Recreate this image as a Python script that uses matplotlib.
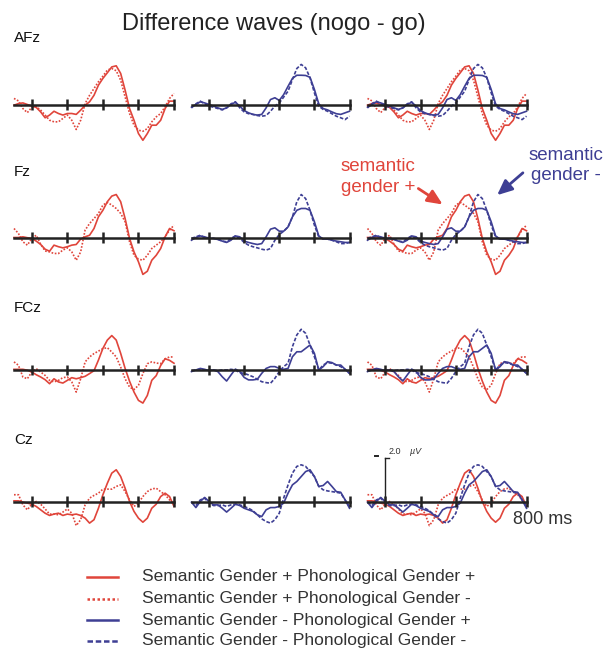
import numpy as np
import matplotlib
matplotlib.use("Agg")
import matplotlib.pyplot as plt
from matplotlib.lines import Line2D
from matplotlib.patches import FancyArrowPatch

plt.rcParams['font.family'] = ['Liberation Sans', 'DejaVu Sans']

RED = '#e0453b'
BLUE = '#3e3f94'
TXT = '#333333'
AXC = '#222222'

# time axis (ms) and amplitudes (uV), sampled every 25 ms
times = np.arange(-100, 801, 25)
ticks = [0, 200, 400, 600, 800]
electrodes = ['AFz', 'Fz', 'FCz', 'Cz']

# sp = semantic +, sm = semantic -, pp = phonological +, pm = phonological -
afz_sp_pp = [-0.03, 0.04, 0.07, 0.00, -0.07, -0.13, -0.33, -0.59, -0.47, -0.30, -0.40, -0.47, -0.40, -0.40, -0.44, -0.25, -0.03, 0.12, 0.41, 0.86, 1.16, 1.41, 1.67, 1.72, 1.38, 0.64, -0.18, -0.70, -1.29, -1.59, -1.29, -0.92, -0.92, -0.70, -0.18, 0.15, 0.15]
afz_sp_pm = [0.27, 0.16, -0.18, -0.36, -0.13, -0.10, -0.25, -0.47, -0.70, -0.77, -0.77, -0.62, -0.47, -0.70, -1.11, -0.70, 0.04, 0.41, 0.71, 1.01, 1.26, 1.53, 1.60, 1.50, 1.08, 0.34, -0.40, -0.92, -1.14, -1.19, -1.07, -0.77, -0.55, -0.40, -0.10, 0.27, 0.49]
afz_sm_pp = [-0.12, 0.00, 0.12, 0.07, 0.00, -0.07, -0.15, -0.22, -0.15, 0.00, 0.10, -0.07, -0.27, -0.37, -0.44, -0.47, -0.44, -0.15, 0.22, 0.30, 0.18, 0.44, 0.81, 1.16, 1.30, 1.30, 1.29, 1.21, 0.67, 0.03, -0.18, -0.24, -0.33, -0.41, -0.44, -0.37, -0.30]
afz_sm_pm = [-0.15, 0.03, 0.15, 0.03, -0.07, -0.12, -0.18, -0.24, -0.15, 0.03, 0.12, -0.15, -0.33, -0.41, -0.44, -0.49, -0.52, -0.49, -0.30, -0.07, 0.07, 0.33, 0.59, 1.11, 1.60, 1.78, 1.63, 1.19, 0.52, -0.07, -0.22, -0.30, -0.41, -0.52, -0.59, -0.67, -0.52]

fz_sp_pp = [0.00, 0.00, 0.03, -0.01, -0.04, -0.16, -0.31, -0.52, -0.61, -0.34, -0.41, -0.46, -0.41, -0.34, -0.31, -0.07, 0.03, 0.10, 0.40, 0.92, 1.21, 1.59, 1.84, 1.91, 1.59, 0.84, -0.04, -0.64, -1.08, -1.64, -1.50, -1.01, -0.79, -0.49, 0.03, 0.40, 0.30]
fz_sp_pm = [0.40, 0.18, -0.19, -0.34, -0.04, 0.10, -0.30, -0.60, -0.64, -0.71, -0.71, -0.56, -0.46, -0.64, -1.01, -0.64, 0.33, 0.62, 0.84, 1.07, 1.44, 1.56, 1.44, 1.29, 1.07, 0.70, -0.19, -0.79, -0.96, -1.01, -0.79, -0.49, -0.34, -0.19, 0.03, 0.33, 0.55]
fz_sm_pp = [-0.12, 0.00, 0.07, 0.03, -0.04, -0.04, -0.09, -0.16, -0.22, -0.12, 0.07, 0.03, -0.16, -0.22, -0.27, -0.31, -0.27, 0.03, 0.37, 0.43, 0.28, 0.28, 0.47, 0.92, 1.21, 1.29, 1.29, 1.21, 0.70, 0.07, -0.07, -0.07, -0.12, -0.16, -0.19, -0.22, -0.22]
fz_sm_pm = [-0.04, 0.03, 0.10, -0.01, -0.01, -0.04, -0.07, -0.16, -0.19, -0.04, 0.07, -0.04, -0.22, -0.34, -0.41, -0.46, -0.52, -0.56, -0.49, -0.12, 0.13, 0.28, 0.47, 0.92, 1.59, 1.91, 1.73, 1.21, 0.55, 0.03, -0.07, -0.07, -0.12, -0.19, -0.27, -0.27, -0.22]

fcz_sp_pp = [0.03, 0.03, 0.03, -0.01, -0.09, -0.21, -0.31, -0.43, -0.61, -0.39, -0.53, -0.58, -0.46, -0.34, -0.39, -0.34, -0.28, -0.16, -0.03, 0.44, 0.96, 1.33, 1.53, 1.33, 0.74, 0.07, -0.50, -0.98, -1.35, -1.47, -1.13, -0.46, -0.25, 0.20, 0.50, 0.43, 0.30]
fcz_sp_pm = [0.36, 0.21, -0.31, -0.39, -0.09, 0.06, -0.09, -0.24, -0.46, -0.53, -0.46, -0.34, -0.31, -0.53, -0.98, -0.39, 0.36, 0.58, 0.73, 0.84, 0.95, 0.99, 0.80, 0.58, 0.13, -0.39, -0.76, -0.87, -0.68, -0.16, 0.28, 0.36, 0.31, 0.28, 0.50, 0.58, 0.58]
fcz_sm_pp = [-0.07, 0.00, 0.07, 0.03, -0.03, 0.00, -0.07, -0.30, -0.49, -0.22, 0.04, -0.07, -0.33, -0.44, -0.44, -0.41, -0.15, 0.07, 0.15, 0.15, 0.07, 0.03, 0.07, 0.59, 0.81, 0.81, 0.96, 1.11, 0.74, 0.00, 0.15, 0.37, 0.33, 0.22, 0.22, 0.03, -0.15]
fcz_sm_pm = [-0.03, 0.00, 0.03, 0.00, 0.00, 0.00, -0.03, 0.00, 0.00, 0.03, 0.00, -0.12, -0.15, -0.22, -0.30, -0.41, -0.52, -0.56, -0.59, -0.37, -0.07, 0.15, 0.30, 1.04, 1.56, 1.81, 1.63, 1.11, 0.59, 0.00, 0.22, 0.33, 0.30, 0.22, 0.15, 0.03, -0.15]

cz_sp_pp = [0.03, 0.03, -0.03, -0.07, -0.12, -0.22, -0.37, -0.52, -0.62, -0.56, -0.52, -0.62, -0.56, -0.59, -0.56, -0.62, -0.74, -0.96, -0.81, -0.30, 0.30, 0.81, 1.26, 1.41, 1.11, 0.59, 0.00, -0.44, -0.74, -0.92, -0.74, -0.30, -0.12, 0.22, 0.37, 0.22, -0.22]
cz_sp_pm = [0.30, 0.30, -0.15, -0.37, -0.12, 0.00, -0.12, -0.33, -0.56, -0.56, -0.59, -0.47, -0.33, -0.52, -1.07, -0.81, -0.15, 0.15, 0.27, 0.37, 0.55, 0.55, 0.55, 0.67, 0.74, 0.44, 0.07, -0.22, -0.07, 0.22, 0.44, 0.56, 0.59, 0.44, 0.30, 0.07, -0.15]
cz_sm_pp = [-0.03, -0.27, 0.00, 0.18, 0.00, -0.15, -0.15, -0.30, -0.47, -0.30, -0.12, -0.18, -0.30, -0.37, -0.44, -0.59, -0.67, -0.37, -0.27, -0.27, -0.22, -0.07, 0.37, 0.74, 0.89, 1.11, 1.33, 1.41, 1.11, 0.67, 0.71, 0.89, 0.67, 0.44, 0.41, 0.07, -0.30]
cz_sm_pm = [-0.03, -0.18, 0.07, 0.15, -0.07, -0.18, -0.18, -0.15, -0.22, -0.15, -0.12, -0.15, -0.22, -0.30, -0.41, -0.59, -0.77, -0.89, -0.96, -0.81, -0.52, 0.15, 0.74, 1.26, 1.56, 1.63, 1.56, 1.33, 1.11, 0.67, 0.52, 0.47, 0.44, 0.41, 0.37, 0.07, -0.22]

waves = {
    'AFz': (afz_sp_pp, afz_sp_pm, afz_sm_pp, afz_sm_pm),
    'Fz': (fz_sp_pp, fz_sp_pm, fz_sm_pp, fz_sm_pm),
    'FCz': (fcz_sp_pp, fcz_sp_pm, fcz_sm_pp, fcz_sm_pm),
    'Cz': (cz_sp_pp, cz_sp_pm, cz_sm_pp, cz_sm_pm),
}

legend_labels = [
    'Semantic Gender + Phonological Gender +',
    'Semantic Gender + Phonological Gender -',
    'Semantic Gender - Phonological Gender +',
    'Semantic Gender - Phonological Gender -',
]
styles = [
    dict(color=RED, ls='-'),
    dict(color=RED, ls=(0, (1, 1))),
    dict(color=BLUE, ls='-'),
    dict(color=BLUE, ls=(0, (2.2, 1.1))),
]
# which conditions each column shows
columns = [[0, 1], [2, 3], [0, 1, 2, 3]]

W, H = 605, 651
fig = plt.figure(figsize=(W / 100, H / 100), dpi=100)

col_x = [(14, 174), (191.5, 349.5), (367.5, 526.5)]
row_y = [104.5, 237.5, 370, 501.5]
label_y = [38, 172, 308, 440]
PX_UV = 22.5
YR = 2.6


def fx(x):
    return x / W


def fy(y):
    return 1 - y / H


def panel(left, right, base):
    ax = fig.add_axes([fx(left), fy(base + YR * PX_UV), (right - left) / W, 2 * YR * PX_UV / H])
    ax.set_xlim(-100, 800)
    ax.set_ylim(-YR, YR)
    ax.axis('off')
    return ax


axes = {}
for r, el in enumerate(electrodes):
    for c, conds in enumerate(columns):
        ax = panel(col_x[c][0], col_x[c][1], row_y[r])
        for k in conds:
            ax.plot(times, waves[el][k], lw=1.2, clip_on=False,
                    solid_joinstyle='round', **styles[k])
        ax.plot([-100, 800], [0, 0], color=AXC, lw=1.8, zorder=3, clip_on=False)
        ax.vlines(ticks, -0.24, 0.24, color=AXC, lw=1.8, zorder=3, clip_on=False)
        axes[(r, c)] = ax
    fig.text(fx(14), fy(label_y[r]), el, fontsize=11, color='#111', ha='left', va='center')

# calibration bar on the Cz overlay panel
ax = axes[(3, 2)]
ax.plot([0, 0], [0, 1.95], color=AXC, lw=1.0, clip_on=False)
ax.plot([0, 22], [1.95, 1.95], color=AXC, lw=1.0, clip_on=False)
ax.plot([-60, -38], [2.02, 2.02], color=AXC, lw=1.4, clip_on=False)
ax.text(22, 2.2, '2.0', fontsize=6.5, color=TXT, ha='left', va='center')
ax.text(142, 2.2, 'µV', fontsize=6.5, color=TXT, ha='left', va='center', style='italic')
fig.text(fx(513), fy(519), '800 ms', fontsize=13, color=TXT, ha='left', va='center')

fig.text(fx(274), fy(24), 'Difference waves (nogo - go)', fontsize=17, color='#222',
         ha='center', va='center')

# annotations
fig.text(fx(378), fy(177), 'semantic\ngender +', fontsize=13.5, color=RED,
         ha='center', va='center', linespacing=1.25)
fig.text(fx(566), fy(165.5), 'semantic\ngender -', fontsize=13.5, color=BLUE,
         ha='center', va='center', linespacing=1.25)
arrow = '-|>,head_length=0.9,head_width=0.4'
fig.add_artist(FancyArrowPatch(
    (fx(416), fy(187)), (fx(445), fy(206)), transform=fig.transFigure,
    arrowstyle=arrow, mutation_scale=10, lw=2.0, color=RED))
fig.add_artist(FancyArrowPatch(
    (fx(525), fy(171)), (fx(495), fy(197)), transform=fig.transFigure,
    arrowstyle=arrow, mutation_scale=10, lw=2.0, color=BLUE))

# legend
leg_y = [577, 599, 620, 641]
for k, lab in enumerate(legend_labels):
    fig.add_artist(Line2D([fx(87), fx(118)], [fy(leg_y[k])] * 2, transform=fig.transFigure,
                          lw=1.8, **styles[k]))
    fig.text(fx(142), fy(leg_y[k]), lab, fontsize=12.5, color=TXT, ha='left', va='center')

fig.savefig('out.png', dpi=100)
